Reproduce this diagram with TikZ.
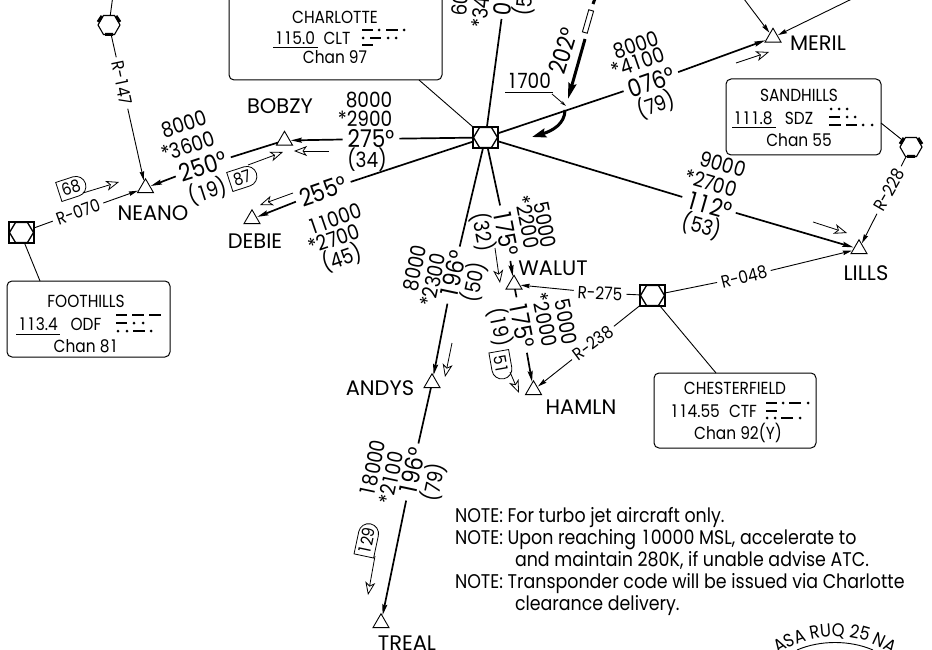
\documentclass[tikz,border=0pt]{standalone}
\usepackage{fontspec}
\setmainfont[FakeStretch=0.88]{Poppins}
\newfontfamily\namefont{Poppins}
\usetikzlibrary{shapes.geometric,shapes.misc,arrows.meta,decorations.text,calc}
\newcommand{\fsz}[1]{\fontsize{#1}{#1}\selectfont}
\newcommand{\I}{\kern.11em 1\kern.11em}
\tikzset{
  every node/.style={inner sep=0pt,outer sep=0pt},
  wpt/.style={regular polygon,regular polygon sides=3,minimum size=18.5pt,draw,line width=.9pt},
  vortacbox/.style={rectangle,draw,line width=1.6pt,minimum width=25pt,minimum height=21pt},
  vorhex/.style={regular polygon,regular polygon sides=6,draw,line width=1.1pt,minimum size=22pt},
  wname/.style={font=\namefont\fsz{21}},
  alt/.style={font=\fsz{21}},
  hdg/.style={font=\fsz{24.5},inner xsep=5pt,inner ysep=1pt},
  radial/.style={font=\fsz{17.5},inner xsep=4pt,inner ysep=1pt},
  boxtxt/.style={font=\fsz{17.5}},
  navbox/.style={draw,line width=1pt,rounded corners=5pt},
  flag/.style={rounded rectangle,rounded rectangle west arc=none,draw,line width=.8pt,minimum height=20pt,minimum width=32pt,font=\fsz{17},inner xsep=2pt},
  leg/.style={line width=1.7pt},
  legarr/.style={line width=1.7pt,-{Stealth[length=11pt,width=5pt,inset=1.5pt]},shorten >=1pt},
  thinarr/.style={line width=.9pt,-{Stealth[length=9pt,width=4.5pt,inset=1pt]},shorten >=1pt},
  thinline/.style={line width=.9pt},
  course/.style={line width=.8pt,-{Stealth[open,fill=white,length=13pt,width=10pt,inset=3.5pt,line width=.8pt]}},
  mdash/.style={line width=2.6pt},
  note/.style={font=\fsz{19.8},anchor=base west},
}
\begin{document}
\begin{tikzpicture}[x=1pt,y=-1pt]
\path[use as bounding box,fill=white] (0,0) rectangle (932,650);

% navaids
\node[vortacbox] (clt) at (485.5,137.5) {};
\node[vortacbox] (odf) at (21.5,232.5) {};
\node[vortacbox] (ctf) at (652.5,295.5) {};
\foreach \v in {clt,odf,ctf}{
  \draw[line width=1.3pt,shift={(\v.center)}] (-12,0) -- (-6,-10) -- (6,-10) -- (12,0) -- (6,10) -- (-6,10) -- cycle;
}
\node[vorhex] (vtl) at (109,25) {};
\node[vorhex] (sdzv) at (911,147) {};
\foreach \v in {vtl,sdzv}{
  \draw[line width=3pt,shift={(\v.center)}] (-4,9.5) -- (4,9.5) (-11,-3) -- (-7,-9) (11,-3) -- (7,-9);
}

% waypoints
\node[wpt] (neano) at (145.5,188) {};
\node[wpt] (bobzy) at (284.5,140.5) {};
\node[wpt] (debie) at (252,219) {};
\node[wpt] (meril) at (773,37.5) {};
\node[wpt] (lills) at (859,249) {};
\node[wpt] (walut) at (514,284.5) {};
\node[wpt] (andys) at (432,383) {};
\node[wpt] (hamln) at (533.5,390) {};
\node[wpt] (treal) at (381,623) {};
\node[wname] (tneano) at (153,213) {NEANO};
\node[wname] (tbobzy) at (280,106) {BOBZY};
\node[wname] (tdebie) at (255,241) {DEBIE};
\node[wname] (tmeril) at (818,43) {MERIL};
\node[wname] (twalut) at (553,268) {WALUT};
\node[wname] (tandys) at (380,388) {ANDYS};
\node[wname] (thamln) at (581,407) {HAMLN};
\node[wname] (tlills) at (866,273) {LILLS};
\node[wname] (ttreal) at (407,643) {TREAL};

% leg BOBZY
\node[hdg] (h275) at (371,139) {275°};
\node[alt] (a1) at (369,100) {8000};
\node[alt] (a2) at (365,119) {*2900};
\node[alt] (a3) at (367,160) {(34)};
\draw[leg] (clt) -- (h275);
\draw[legarr] (h275) -- (bobzy);
% leg NEANO
\node[hdg,rotate=18] (h250) at (203,166) {250°};
\node[alt,rotate=18] (b1) at (184,124) {8000};
\node[alt,rotate=18] (b2) at (188,146) {*3600};
\node[alt,rotate=18] (b3) at (208,191) {(\I9)};
\draw[leg] (bobzy) -- (h250);
\draw[legarr] (h250) -- (neano);
% leg DEBIE
\node[hdg,rotate=19] (h255) at (323,191) {255°};
\node[alt,rotate=19] (c1) at (335,219) {\I\I000};
\node[alt,rotate=19] (c2) at (334,239) {*2700};
\node[alt,rotate=19] (c3) at (342,258) {(45)};
\draw[leg] (clt) -- (h255);
\draw[legarr] (h255) -- (debie);
% leg MERIL
\node[hdg,rotate=19] (h076) at (651,82) {076°};
\node[alt,rotate=19] (d1) at (636,45) {8000};
\node[alt,rotate=19] (d2) at (638,62) {*4\I00};
\node[alt,rotate=19] (d3) at (656,105) {(79)};
\draw[leg] (clt) -- (h076);
\draw[legarr] (h076) -- (meril);
% leg LILLS
\node[hdg,rotate=-16] (h112) at (709,205) {\I\I2°};
\node[alt,rotate=-16] (e1) at (723,164) {9000};
\node[alt,rotate=-16] (e2) at (711,183) {*2700};
\node[alt,rotate=-16] (e3) at (702,226) {(53)};
\draw[leg] (clt) -- (h112);
\draw[legarr] (h112) -- (lills);
% leg WALUT
\node[hdg,rotate=-79] (h175a) at (506,233) {\I75°};
\node[alt,rotate=-79] (f1) at (545,225) {5000};
\node[alt,rotate=-79] (f2) at (527,222) {*2200};
\node[alt,rotate=-79] (f3) at (483,232) {(32)};
\draw[leg] (clt) -- (h175a);
\draw[legarr] (h175a) -- (walut);
% leg HAMLN
\node[hdg,rotate=-79] (h175b) at (522,325) {\I75°};
\node[alt,rotate=-79] (g1) at (566,322) {5000};
\node[alt,rotate=-79] (g2) at (545,320) {*2000};
\node[alt,rotate=-79] (g3) at (500,327) {(\I9)};
\draw[leg] (walut) -- (h175b);
\draw[legarr] (h175b) -- (hamln);
% leg ANDYS
\node[hdg,rotate=78] (h196a) at (453,275) {\I96°};
\node[alt,rotate=78] (i1) at (415,268) {8000};
\node[alt,rotate=78] (i2) at (433,280) {*2300};
\node[alt,rotate=78] (i3) at (474,282) {(50)};
\draw[leg] (clt) -- (h196a);
\draw[legarr] (h196a) -- (andys);
% leg TREAL
\node[hdg,rotate=78] (h196b) at (412,472) {\I96°};
\node[alt,rotate=78] (j1) at (373,468) {\I8000};
\node[alt,rotate=78] (j2) at (391,478) {*2\I00};
\node[alt,rotate=78] (j3) at (434,482) {(79)};
\draw[leg] (andys) -- (h196b);
\draw[legarr] (h196b) -- (treal);
% leg north, cut by the page
\node[font=\fsz{24},rotate=84,anchor=west] (h0) at (502,16) {0};
\node[alt,rotate=84,anchor=west] (k1) at (459,16) {60};
\node[alt,rotate=84,anchor=west] (k2) at (479,28) {*34};
\node[alt,rotate=84,anchor=west] (k3) at (523,16) {(5};
\draw[leg] (clt) -- ($(h0.west)+(-.5,3)$);

% 202 inbound
\coordinate (ta) at (596,-4);
\coordinate (tb) at (593,4);
\coordinate (tc) at (585,39);
\coordinate (td) at (568,99);
\coordinate (te) at (565,110);
\coordinate (tf) at (532,137);
\draw[line width=3pt] (ta) -- (tb);
\draw[line width=.9pt,fill=white,rotate around={-16:(588,21.5)}] (585.5,10) rectangle (590.5,33);
\draw[line width=3pt,-{Stealth[length=16pt,width=8pt,inset=2pt]}] (tc) -- (td);
\draw[line width=3pt,-{Stealth[length=14pt,width=9pt,inset=2pt]}] (te) .. controls (565,124) and (552,131) .. (tf);
\node[font=\fsz{24},rotate=73] (h202) at (563,51) {202°};
\node[alt] (t1700) at (529,81) {\I700};
\draw[thinline] (505,92) -- (553,92);
\coordinate (tg) at (566,106);
\draw[line width=.8pt,-{Stealth[length=6pt,width=3pt]}] (552,94) -- (tg);

% nav boxes
\node[navbox,minimum width=213pt,minimum height=100pt] (bclt) at (335.5,30) {};
\node[boxtxt] (s1) at (335,17) {CHARLOTTE};
\node[boxtxt] (s2) at (295,38) {\I\I5.0};
\node[boxtxt] (s3) at (337,38) {CLT};
\node[boxtxt] (s4) at (335,57) {Chan 97};
\draw[thinline] (273,47) -- (318,47);

\node[navbox,minimum width=163pt,minimum height=76pt] (bodf) at (88.5,319) {};
\node[boxtxt] (s5) at (86,301) {FOOTHILLS};
\node[boxtxt] (s6) at (38,324) {\I\I3.4};
\node[boxtxt] (s7) at (86,324) {ODF};
\node[boxtxt] (s8) at (86,346) {Chan 8\I};
\draw[thinline] (16,334) -- (60,334);

\node[navbox,minimum width=155pt,minimum height=76pt] (bsdz) at (803.5,117) {};
\node[boxtxt] (s9) at (799,95) {SANDHILLS};
\node[boxtxt] (s10) at (753,118) {\I\I\I.8};
\node[boxtxt] (s11) at (799,118) {SDZ};
\node[boxtxt] (s12) at (799,140) {Chan 55};
\draw[thinline] (732,127) -- (776,127);

\node[navbox,minimum width=162pt,minimum height=75pt] (bctf) at (735,410.5) {};
\node[boxtxt] (s13) at (735,388) {CHESTERFIELD};
\node[boxtxt] (s14) at (695,411) {\I\I4.55};
\node[boxtxt] (s15) at (743,411) {CTF};
\node[boxtxt] (s16) at (738,433) {Chan 92(Y)};

% morse code
\foreach \a/\b/\y in {362/373/30,386/398/30,370/381/38,362/373/45,
  116/127/315,132/144/315,149/161/315,116/127/323,133/145/331,
  829/840/117,829/841/125,846/857/125,
  766/777/403,789/801/403,766/777/411,781/793/418}{
  \draw[mdash] (\a,\y) -- (\b,\y);
}
\foreach \x/\y in {379/30,404/30,363/38,388/38,396/38,
  134/323,143/323,118/331,127/331,151/331,
  831/109,839/109,847/109,847/117,855/117,863/125,872/125,
  783/403,808/403,767/418,775/418,800/418}{
  \fill (\x,\y) circle (1.5);
}

% leaders
\draw[thinline] (bclt.south east) ++(-23,0) coordinate (lc) -- (clt.north west);
\draw[thinline] (odf.south) ++(3,0) -- ($(bodf.north west)+(33,0)$);
\draw[thinline] ($(bsdz.east)+(0,6)$) -- (sdzv);
\draw[thinline] (ctf.south east) ++(-5,0) -- ($(bctf.north)+(-19,0)$);

% radials
\coordinate (nvt) at (113,-5);
\draw[thinline] (nvt) -- (vtl);
\node[radial,rotate=-78] (r147) at (122,83) {R-\I47};
\draw[thinline] (vtl) -- (r147);
\draw[thinarr] (r147) -- (neano);
\node[radial,rotate=20] (r070) at (78,212) {R-070};
\draw[thinline] (odf) -- (r070);
\draw[thinarr] (r070) -- (neano);
\node[radial,rotate=60] (r228) at (889,190) {R-228};
\draw[thinline] (sdzv) -- (r228);
\draw[thinarr] (r228) -- (lills);
\node[radial,rotate=14] (r048) at (744,277) {R-048};
\draw[thinline] (ctf) -- (r048);
\draw[thinarr] (r048) -- (lills);
\node[radial,rotate=-3] (r275) at (600,293) {R-275};
\draw[thinline] (ctf) -- (r275);
\draw[thinarr] (r275) -- (walut);
\node[radial,rotate=37] (r238) at (593,343) {R-238};
\draw[thinline] (ctf) -- (r238);
\draw[thinarr] (r238) -- (hamln);
\coordinate (nm1) at (741,-5);
\coordinate (nm2) at (860,-5);
\draw[thinarr] (nm1) -- (meril);
\draw[thinarr] (nm2) -- (meril);

% speed flags and course arrows
\node[flag,rotate=18] (f68) at (71,188) {68};
\coordinate (fa0) at (83,193);
\coordinate (fa) at (119,182);
\draw[course] (fa0) -- (fa);
\node[flag,rotate=18] (f87) at (242,178) {87};
\coordinate (fb0) at (248,165);
\coordinate (fb) at (283,152);
\draw[course] (fb0) -- (fb);
\node[flag,rotate=-80] (f51) at (501,364) {5\I};
\coordinate (fc0) at (510,372);
\coordinate (fc) at (519,393);
\draw[course] (fc0) -- (fc);
\node[flag,rotate=78] (f129) at (367,541) {\I29};
\coordinate (fd0) at (375,556);
\coordinate (fd) at (368,595);
\draw[course] (fd0) -- (fd);
\coordinate (c1a) at (329,151); \coordinate (c1b) at (294,151);
\coordinate (c2a) at (293,193); \coordinate (c2b) at (260,205);
\coordinate (c3a) at (736,63);  \coordinate (c3b) at (769,52);
\coordinate (c4a) at (813,222); \coordinate (c4b) at (847,233);
\coordinate (c5a) at (495,248); \coordinate (c5b) at (500,283);
\coordinate (c6a) at (452,343); \coordinate (c6b) at (445,377);
\foreach \p/\q in {c1a/c1b,c2a/c2b,c3a/c3b,c4a/c4b,c5a/c5b,c6a/c6b}{
  \draw[course] (\p) -- (\q);
}

% notes
\node[note] (n1) at (455,522) {NOTE: For turbo jet aircraft only.};
\node[note] (n2) at (455,544) {NOTE: Upon reaching \I0000 MSL, accelerate to};
\node[note] (n3) at (515,566) {and maintain 280K, if unable advise ATC.};
\node[note] (n4) at (455,588) {NOTE: Transponder code will be issued via Charlotte};
\node[note] (n5) at (515,610) {clearance delivery.};

% arc, cut by the page
\draw[line width=.9pt] (797,650) .. controls (820,640) and (850,640) .. (873,650);
\path[decorate,decoration={text along path,text align=center,
   text={|\fsz{18.5}|ASA RUQ 25 NA}}]
  (764,666) .. controls (803.5,626.5) and (866.5,626.5) .. (906,666);
\end{tikzpicture}
\end{document}
